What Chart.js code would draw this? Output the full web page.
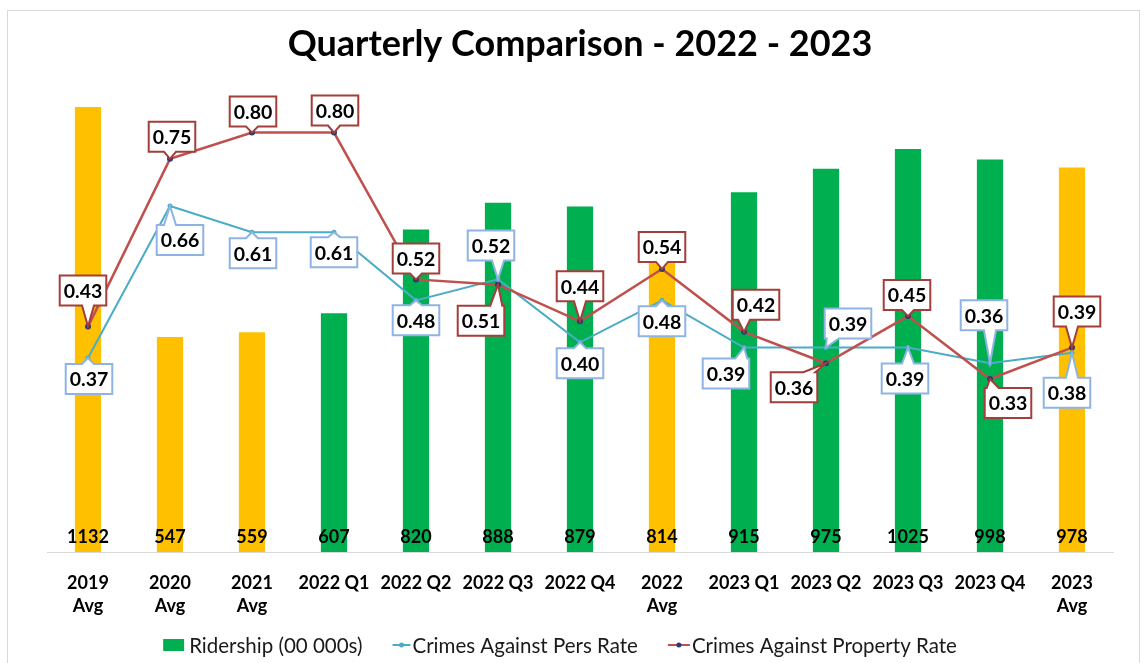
<!DOCTYPE html>
<html>
<head>
<meta charset="utf-8">
<script src="https://cdn.jsdelivr.net/npm/chart.js@4"></script>
<style>
  html,body{margin:0;padding:0;background:#fff;}
  #wrap{position:relative;width:1144px;height:663px;}
</style>
</head>
<body>
<div id="wrap"><canvas id="c"></canvas></div>
<script>
const categories = [['2019','Avg'],['2020','Avg'],['2021','Avg'],'2022 Q1','2022 Q2','2022 Q3','2022 Q4',['2022','Avg'],'2023 Q1','2023 Q2','2023 Q3','2023 Q4',['2023','Avg']];
const ridership = [1132,547,559,607,820,888,879,814,915,975,1025,998,978];
const persRate = [0.37,0.66,0.61,0.61,0.48,0.52,0.40,0.48,0.39,0.39,0.39,0.36,0.38];
const propRate = [0.43,0.75,0.80,0.80,0.52,0.51,0.44,0.54,0.42,0.36,0.45,0.33,0.39];
const seriesNames = ['Ridership (00 000s)','Crimes Against Pers Rate','Crimes Against Property Rate'];
const titleText = 'Quarterly Comparison - 2022 - 2023';

// callout label offsets (label centre relative to its point), layout only
const propLabelOffsets = [[-5,-36],[2,-22],[1,-21],[1,-22],[0,-21],[-17,36],[0,-35],[0,-22],[12,-27],[-32,24],[-1,-21],[18,24],[5,-36]];
const persLabelOffsets = [[1,21],[10,34],[1,21],[0,20],[0,20],[-7,-34],[0,21],[0,21],[-18,26],[22,-24],[-3,31],[-6,-48],[-5,40]];

const FONT = 'Lato';
const YELLOW = '#FFC000', GREEN = '#00B050';
const RED = '#C0504D', BLUE = '#4BACC6';
const barColors = categories.map(c => (Array.isArray(c) ? YELLOW : GREEN));

const framePlugin = {
  id: 'frame',
  beforeDraw(chart) {
    const ctx = chart.ctx;
    ctx.save();
    ctx.fillStyle = '#fff';
    ctx.fillRect(0, 0, chart.width, chart.height);
    ctx.strokeStyle = '#d9d9d9';
    ctx.lineWidth = 1;
    ctx.strokeRect(7.5, 10.5, 1132, 660);
    ctx.restore();
  }
};

const barLabelPlugin = {
  id: 'barLabels',
  afterDatasetsDraw(chart) {
    const ctx = chart.ctx;
    const meta = chart.getDatasetMeta(0);
    ctx.save();
    ctx.font = 'bold 18px ' + FONT;
    ctx.fillStyle = '#000';
    ctx.textAlign = 'center';
    ctx.textBaseline = 'middle';
    meta.data.forEach((el, i) => {
      ctx.fillText(String(ridership[i]), el.x, chart.chartArea.bottom - 15);
    });
    ctx.restore();
  }
};

function drawCallout(ctx, px, py, cx, cy, text, border) {
  ctx.font = 'bold 19.5px ' + FONT;
  const tw = ctx.measureText(text).width;
  const w = tw + 8, h = 30;
  const l = cx - w / 2, r = cx + w / 2, t = cy - h / 2, b = cy + h / 2;
  const hw = 6;
  const clamp = (v, a, z) => Math.max(a, Math.min(z, v));
  ctx.beginPath();
  if (py > b) {
    const bx = clamp(px, l + hw + 2, r - hw - 2);
    ctx.moveTo(l, t); ctx.lineTo(r, t); ctx.lineTo(r, b);
    ctx.lineTo(bx + hw, b); ctx.lineTo(px, py); ctx.lineTo(bx - hw, b);
    ctx.lineTo(l, b); ctx.closePath();
  } else if (py < t) {
    const bx = clamp(px, l + hw + 2, r - hw - 2);
    ctx.moveTo(l, t); ctx.lineTo(bx - hw, t); ctx.lineTo(px, py); ctx.lineTo(bx + hw, t);
    ctx.lineTo(r, t); ctx.lineTo(r, b); ctx.lineTo(l, b); ctx.closePath();
  } else if (px < l) {
    const by = clamp(py, t + hw + 2, b - hw - 2);
    ctx.moveTo(l, t); ctx.lineTo(r, t); ctx.lineTo(r, b); ctx.lineTo(l, b);
    ctx.lineTo(l, by + hw); ctx.lineTo(px, py); ctx.lineTo(l, by - hw); ctx.closePath();
  } else {
    const by = clamp(py, t + hw + 2, b - hw - 2);
    ctx.moveTo(l, t); ctx.lineTo(r, t); ctx.lineTo(r, by - hw); ctx.lineTo(px, py);
    ctx.lineTo(r, by + hw); ctx.lineTo(r, b); ctx.lineTo(l, b); ctx.closePath();
  }
  ctx.fillStyle = '#fff';
  ctx.fill();
  ctx.lineWidth = 2;
  ctx.strokeStyle = border;
  ctx.stroke();
  ctx.fillStyle = '#000';
  ctx.textAlign = 'center';
  ctx.textBaseline = 'middle';
  ctx.fillText(text, cx, cy + 1);
}

const calloutPlugin = {
  id: 'callouts',
  afterDatasetsDraw(chart) {
    const ctx = chart.ctx;
    ctx.save();
    const persMeta = chart.getDatasetMeta(1);
    const propMeta = chart.getDatasetMeta(2);
    persMeta.data.forEach((el, i) => {
      const [dx, dy] = persLabelOffsets[i];
      drawCallout(ctx, el.x, el.y, el.x + dx, el.y + dy, persRate[i].toFixed(2), '#8FB4E3');
    });
    propMeta.data.forEach((el, i) => {
      const [dx, dy] = propLabelOffsets[i];
      drawCallout(ctx, el.x, el.y, el.x + dx, el.y + dy, propRate[i].toFixed(2), '#A33E3B');
    });
    ctx.restore();
  }
};

const legendPlugin = {
  id: 'customLegend',
  afterDraw(chart) {
    const ctx = chart.ctx;
    ctx.save();
    ctx.font = '20.5px ' + FONT;
    ctx.textBaseline = 'middle';
    ctx.textAlign = 'left';
    const y = 645;
    const iconW = [24, 18, 22];
    const gap = 30, iconGap = 2;
    const widths = seriesNames.map((n, i) => iconW[i] + iconGap + ctx.measureText(n).width);
    const total = widths.reduce((a, b) => a + b, 0) + gap * (seriesNames.length - 1);
    let x = 560 - total / 2;
    seriesNames.forEach((n, i) => {
      if (i === 0) {
        ctx.fillStyle = GREEN;
        ctx.fillRect(x, y - 6, iconW[0] - 3, 12);
      } else {
        const col = i === 1 ? BLUE : RED;
        ctx.strokeStyle = col;
        ctx.lineWidth = 2;
        ctx.beginPath(); ctx.moveTo(x, y); ctx.lineTo(x + iconW[i], y); ctx.stroke();
        ctx.fillStyle = i === 1 ? BLUE : '#2E3A6E';
        ctx.beginPath(); ctx.arc(x + iconW[i] / 2, y, 2.5, 0, Math.PI * 2); ctx.fill();
      }
      ctx.fillStyle = '#1a1a1a';
      ctx.fillText(n, x + iconW[i] + iconGap, y + 1);
      x += widths[i] + gap;
    });
    ctx.restore();
  }
};

new Chart(document.getElementById('c'), {
  data: {
    labels: categories,
    datasets: [
      {
        type: 'bar', label: seriesNames[0], data: ridership, yAxisID: 'y',
        backgroundColor: barColors, borderWidth: 0,
        barPercentage: 0.32, categoryPercentage: 1, order: 3
      },
      {
        type: 'line', label: seriesNames[1], data: persRate, yAxisID: 'y1',
        borderColor: BLUE, borderWidth: 2, backgroundColor: BLUE,
        pointRadius: 2.5, pointBackgroundColor: BLUE, pointBorderWidth: 0,
        tension: 0, order: 2
      },
      {
        type: 'line', label: seriesNames[2], data: propRate, yAxisID: 'y1',
        borderColor: RED, borderWidth: 2.5, backgroundColor: RED,
        pointRadius: 3, pointBackgroundColor: '#2E3A6E', pointBorderWidth: 0,
        tension: 0, order: 1
      }
    ]
  },
  options: {
    responsive: true,
    maintainAspectRatio: false,
    animation: false,
    devicePixelRatio: 1,
    layout: { padding: { left: 47, right: 31, top: 0, bottom: 0 } },
    plugins: {
      legend: { display: false },
      tooltip: { enabled: false },
      title: {
        display: true, text: titleText, color: '#000',
        font: { family: FONT, size: 36, weight: 'bold', lineHeight: 1.2 },
        padding: { top: 23, bottom: 14 }
      }
    },
    scales: {
      x: {
        offset: true,
        grid: { display: false, drawTicks: false },
        border: { display: true, color: '#d9d9d9', width: 1 },
        ticks: {
          color: '#000', padding: 20, maxRotation: 0, autoSkip: false,
          font: { family: FONT, size: 18, weight: 'bold', lineHeight: 1.28 }
        },
        afterFit(scale) { scale.height = 111; }
      },
      y: { display: false, min: 0, max: 1200 },
      y1: { display: false, min: 0, max: 0.9, position: 'right' }
    }
  },
  plugins: [framePlugin, barLabelPlugin, calloutPlugin, legendPlugin]
});
</script>
</body>
</html>
